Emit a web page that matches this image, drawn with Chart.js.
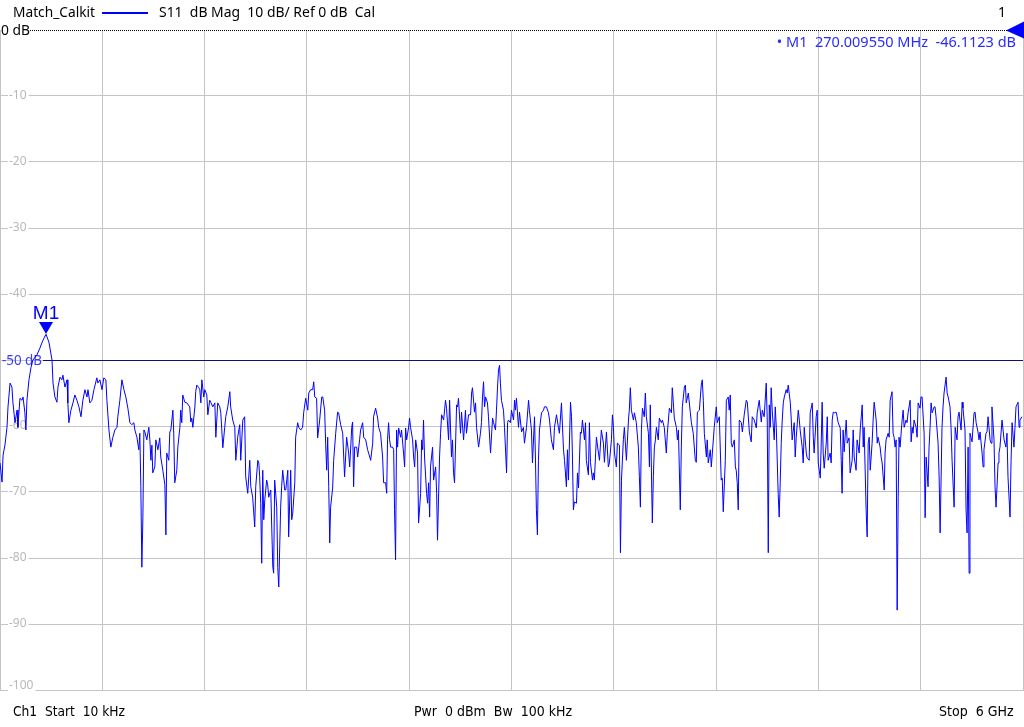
<!DOCTYPE html>
<html>
<head>
<meta charset="utf-8">
<title>Match_Calkit S11</title>
<script src="https://cdn.jsdelivr.net/npm/chart.js@4.4.1/dist/chart.umd.min.js"></script>
<style>
  html, body { margin: 0; padding: 0; background: #fff; }
  #wrap { width: 1024px; height: 727px; }
</style>
</head>
<body>
<div id="wrap"><canvas id="vna" width="1024" height="727"></canvas></div>
<script>
// sweep points (frequency in MHz, S11 in dB)
const freqMHz = [
  0.01, 12, 18, 29, 41, 47, 59, 70, 76, 88, 100, 105, 117, 129, 135, 146, 152, 158, 170, 182,
  193, 217, 234, 252, 270, 287, 305, 311, 322, 334, 340, 352, 363, 369, 381, 393, 398, 404, 416, 428,
  439, 451, 463, 475, 486, 498, 510, 516, 527, 539, 551, 568, 574, 586, 598, 609, 621, 627, 639, 650,
  662, 674, 686, 691, 703, 715, 727, 738, 750,
  762, 773, 785, 791, 803, 814, 820, 826, 832, 838, 844, 850, 861, 873, 879, 885, 891, 896, 908, 914,
  926, 937, 943, 955, 967, 973, 978, 990, 996, 1002, 1014, 1019, 1025, 1037, 1043, 1055, 1060, 1066, 1072, 1084,
  1096, 1113, 1119, 1125, 1131, 1143, 1148, 1154, 1166, 1172, 1178, 1184, 1195, 1201, 1213, 1219, 1230, 1236, 1248, 1260,
  1266, 1277, 1289, 1295, 1307, 1318, 1324, 1336, 1348, 1353, 1365, 1377, 1383, 1394, 1406, 1412, 1424, 1435, 1441, 1453,
  1465, 1471, 1482, 1494,
  1500, 1512, 1518, 1523, 1529, 1535, 1541, 1547, 1553, 1564, 1570, 1576, 1588, 1600, 1605, 1611, 1623, 1629, 1635, 1646,
  1652, 1658, 1670, 1676, 1688, 1693, 1705, 1711, 1717, 1729, 1734, 1746, 1752, 1764, 1775, 1781, 1793, 1805, 1811, 1822,
  1834, 1840, 1846, 1857, 1863, 1875, 1887, 1893, 1904, 1910, 1916, 1922, 1928, 1934, 1939, 1951, 1957, 1969, 1980, 1986,
  1998, 2010, 2016, 2021, 2033, 2045, 2051, 2063, 2068, 2074, 2080, 2092, 2098, 2109, 2115, 2127, 2133, 2145, 2156, 2162,
  2174, 2186, 2191, 2203, 2215, 2221, 2232, 2244, 2250,
  2262, 2268, 2273, 2279, 2285, 2291, 2303, 2309, 2314, 2320, 2326, 2332, 2338, 2350, 2355, 2367, 2373, 2379, 2385, 2396,
  2402, 2408, 2420, 2426, 2432, 2438, 2449, 2455, 2467, 2473, 2479, 2484, 2490, 2502, 2508, 2514, 2520, 2525, 2537, 2543,
  2555, 2561, 2566, 2578, 2584, 2590, 2602, 2613, 2619, 2631, 2637, 2648, 2654, 2660, 2666, 2678, 2684, 2689, 2701, 2707,
  2719, 2730, 2736, 2748, 2760, 2766, 2771, 2783, 2789, 2795, 2807, 2818, 2824, 2830, 2836, 2842, 2848, 2859, 2865, 2877,
  2889, 2895, 2906, 2912, 2918, 2924, 2930, 2935, 2941, 2953, 2959, 2971, 2977, 2982, 2994,
  3000, 3012, 3018, 3023, 3029, 3041, 3047, 3059, 3070, 3076, 3088, 3100, 3105, 3117, 3123, 3135, 3141, 3146, 3152, 3158,
  3164, 3176, 3188, 3193, 3205, 3217, 3223, 3234, 3246, 3252, 3264, 3275, 3281, 3293, 3305, 3311, 3322, 3328, 3334, 3346,
  3352, 3357, 3363, 3369, 3381, 3387, 3393, 3404, 3410, 3416, 3428, 3434, 3439, 3451, 3457, 3463, 3475, 3480, 3486, 3498,
  3510, 3516, 3527, 3539, 3545, 3557, 3568, 3574, 3586, 3592, 3598, 3604, 3615, 3621, 3633, 3639, 3645, 3656, 3662, 3674,
  3686, 3691, 3697, 3703, 3715, 3721, 3732, 3744, 3750, 3756,
  3762, 3768, 3779, 3785, 3791, 3803, 3809, 3814, 3826, 3832, 3838, 3844, 3850, 3861, 3867, 3879, 3885, 3896, 3908, 3914,
  3926, 3938, 3943, 3949, 3955, 3967, 3973, 3979, 3990, 3996, 4002, 4014, 4020, 4025, 4037, 4049, 4055, 4066, 4078, 4084,
  4090, 4102, 4113, 4119, 4125, 4131, 4143, 4148, 4154, 4166, 4172, 4178, 4189, 4201, 4207, 4219, 4230, 4236, 4242, 4254,
  4260, 4271, 4277, 4283, 4289, 4295, 4307, 4313, 4318, 4324, 4330, 4336, 4348, 4354, 4365, 4377, 4383, 4395, 4406, 4412,
  4424, 4436, 4441, 4453, 4465, 4471, 4482, 4494, 4500, 4506,
  4512, 4518, 4523, 4529, 4541, 4547, 4553, 4564, 4570, 4576, 4582, 4588, 4594, 4600, 4611, 4617, 4623, 4635, 4641, 4646,
  4658, 4664, 4670, 4682, 4688, 4693, 4705, 4711, 4717, 4729, 4734, 4746, 4752, 4764, 4770, 4775, 4787, 4793, 4799, 4811,
  4816, 4822, 4828, 4834, 4846, 4852, 4857, 4869, 4875, 4881, 4887, 4893, 4904, 4910, 4916, 4928, 4934, 4939, 4945, 4951,
  4963, 4969, 4980, 4986, 4998, 5004, 5010, 5021, 5027, 5039, 5045, 5057, 5063, 5068, 5080, 5086, 5092, 5098, 5104, 5115,
  5121, 5127, 5139, 5145, 5150, 5162, 5168, 5174, 5186, 5191, 5197, 5209, 5215, 5221, 5232, 5238, 5244, 5250, 5256,
  5262, 5268, 5273, 5279, 5291, 5297, 5303, 5314, 5320, 5326, 5338, 5344, 5350, 5355, 5361, 5373, 5379, 5385, 5396, 5402,
  5408, 5420, 5426, 5432, 5443, 5449, 5455, 5461, 5467, 5479, 5484, 5490, 5502, 5508, 5514, 5525, 5531, 5537, 5549, 5555,
  5561, 5572, 5578, 5584, 5596, 5602, 5613, 5619, 5625, 5637, 5643, 5648, 5660, 5666, 5672, 5678, 5684, 5689, 5695, 5701,
  5713, 5719, 5725, 5736, 5742, 5748, 5760, 5766, 5771, 5783, 5789, 5795, 5807, 5813, 5818, 5830, 5836, 5842, 5854, 5859,
  5865, 5877, 5883, 5889, 5900, 5906, 5912, 5924, 5930, 5936, 5947, 5953, 5959, 5971, 5977, 5982, 5994
];

const s11dB = [
  -65.6, -68.5, -64.4, -62.9, -60.2, -57.1, -53.5, -54.1, -56.5, -59.5, -57.6, -60.2, -55.8, -56.1, -55.6, -58.0, -60.6, -56.1, -53.0, -51.1,
  -50.0, -49.2, -48.2, -47.0, -46.1, -47.3, -50.0, -53.5, -55.6, -56.4, -54.1, -52.6, -53.0, -52.3, -54.1, -53.0, -56.5, -59.5, -57.6, -56.5,
  -55.3, -56.1, -57.1, -58.6, -56.1, -54.5, -55.6, -54.5, -56.5, -56.1, -54.5, -52.7, -53.5, -53.0, -54.5, -52.7, -53.0, -56.1, -60.6, -63.2,
  -61.7, -60.6, -60.2, -58.6, -56.1, -53.0, -54.5, -55.6, -57.3,
  -59.5, -59.8, -59.5, -60.6, -61.7, -63.6, -61.1, -69.2, -81.4, -73.9, -60.6, -60.9, -62.1, -60.2, -62.1, -65.2, -62.9, -67.1, -66.2, -62.1,
  -63.6, -61.8, -64.7, -66.7, -68.9, -76.5, -64.1, -65.2, -60.9, -60.6, -57.6, -61.1, -68.6, -66.7, -63.2, -60.2, -57.6, -59.5, -55.3, -56.4,
  -56.5, -57.1, -59.4, -58.8, -60.2, -57.1, -54.8, -53.8, -54.2, -54.5, -56.5, -53.0, -55.6, -54.5, -55.3, -58.3, -56.1, -56.4, -57.1, -56.5,
  -61.7, -56.5, -57.1, -58.0, -63.3, -60.2, -58.6, -57.1, -54.8, -57.1, -59.1, -60.2, -65.2, -61.7, -59.8, -65.2, -59.1, -58.6, -67.7, -70.2,
  -65.2, -69.2, -70.8, -75.3,
  -69.2, -65.2, -65.6, -67.7, -71.7, -80.8, -66.7, -74.2, -71.2, -68.2, -68.9, -70.8, -69.7, -81.4, -82.3, -68.2, -72.3, -81.4, -84.4, -72.3,
  -69.2, -66.7, -69.7, -69.7, -66.7, -76.8, -66.7, -74.2, -73.2, -68.6, -61.7, -59.5, -60.2, -60.6, -60.2, -58.0, -55.8, -57.6, -55.0, -54.5,
  -54.5, -53.3, -55.6, -55.8, -61.8, -59.1, -55.6, -55.6, -57.6, -62.6, -66.7, -61.7, -69.2, -77.7, -72.3, -69.4, -65.2, -61.1, -57.9, -58.0,
  -59.8, -61.1, -64.7, -67.7, -61.7, -64.1, -66.2, -60.2, -59.4, -69.2, -63.2, -63.2, -64.7, -62.1, -60.6, -59.5, -61.7, -62.1, -63.6, -64.1,
  -65.2, -62.6, -58.6, -57.3, -58.8, -60.2, -61.1, -64.7, -68.6,
  -68.6, -70.2, -62.1, -59.5, -62.1, -63.2, -63.2, -63.6, -72.7, -80.3, -60.6, -63.2, -60.3, -61.7, -60.6, -64.1, -66.2, -60.3, -62.1, -60.3,
  -58.8, -60.2, -62.1, -64.7, -66.2, -62.1, -64.1, -74.7, -70.2, -62.1, -63.6, -59.1, -64.7, -70.2, -71.7, -68.6, -73.8, -66.2, -63.2, -68.2,
  -66.2, -70.2, -77.3, -64.7, -61.1, -58.3, -59.1, -56.1, -57.3, -62.1, -56.1, -64.7, -62.1, -67.1, -68.6, -56.8, -57.1, -55.8, -61.1, -57.9,
  -62.1, -57.6, -61.1, -58.3, -58.3, -55.0, -54.2, -57.9, -56.5, -60.2, -63.2, -61.1, -59.5, -55.6, -53.3, -57.1, -55.6, -56.5, -58.6, -64.1,
  -58.8, -59.5, -60.6, -57.6, -54.1, -51.5, -50.8, -53.5, -56.1, -57.6, -60.2, -67.1, -59.5, -59.1, -59.5,
  -57.6, -59.1, -56.1, -57.6, -55.8, -60.2, -57.9, -60.9, -60.2, -62.6, -60.2, -56.1, -57.6, -60.6, -65.6, -58.6, -65.6, -72.7, -76.5, -65.2,
  -60.6, -58.0, -57.6, -57.1, -57.1, -58.0, -59.1, -62.1, -63.6, -60.2, -58.3, -60.2, -61.1, -56.5, -63.6, -65.2, -69.2, -63.6, -68.2, -56.4,
  -58.6, -64.1, -72.7, -71.5, -71.7, -67.1, -69.4, -60.9, -61.1, -59.1, -62.1, -59.5, -65.2, -67.4, -59.5, -65.5, -68.2, -67.1, -68.2, -61.7,
  -64.1, -65.2, -60.6, -62.6, -65.5, -60.9, -66.2, -65.6, -62.1, -58.3, -60.2, -64.1, -66.2, -62.6, -62.9, -79.2, -68.2, -62.1, -60.2, -65.2,
  -59.1, -57.6, -54.2, -57.6, -59.1, -58.0, -59.5, -63.2, -67.7, -72.3,
  -60.6, -57.3, -58.6, -55.0, -58.6, -61.1, -66.2, -56.8, -74.7, -67.7, -63.2, -62.1, -60.2, -62.1, -58.8, -59.5, -59.1, -60.2, -64.1, -61.1,
  -57.3, -58.0, -54.2, -56.4, -58.8, -60.2, -62.1, -60.6, -72.7, -63.2, -57.1, -54.1, -53.8, -56.5, -55.0, -58.0, -59.5, -61.1, -65.2, -65.5,
  -57.9, -57.6, -53.8, -53.0, -56.1, -61.1, -64.7, -62.1, -65.6, -63.6, -66.2, -64.1, -60.2, -57.1, -59.5, -58.6, -68.2, -67.9, -73.0, -65.2,
  -56.1, -55.6, -57.6, -55.3, -62.6, -63.2, -62.1, -66.2, -66.7, -68.6, -72.7, -59.1, -59.5, -60.9, -58.3, -56.1, -56.4, -60.9, -62.4, -58.6,
  -59.1, -60.3, -58.0, -56.1, -59.4, -57.6, -58.6, -53.5, -59.1, -79.2,
  -56.8, -60.2, -54.2, -57.6, -62.1, -57.1, -60.2, -70.2, -73.8, -68.6, -62.6, -59.1, -56.5, -55.6, -54.5, -55.0, -53.8, -56.4, -59.1, -62.1,
  -59.5, -64.7, -61.7, -57.6, -59.1, -60.6, -63.2, -65.6, -60.2, -64.1, -64.8, -65.2, -58.0, -56.5, -61.7, -64.1, -58.6, -57.6, -65.6, -67.9,
  -63.2, -56.4, -64.1, -66.4, -62.6, -58.6, -65.2, -64.1, -65.6, -59.1, -57.9, -58.0, -57.9, -58.6, -59.5, -60.3, -65.2, -70.2, -60.6, -63.9,
  -59.1, -62.6, -61.8, -67.1, -65.2, -60.6, -64.7, -66.7, -62.1, -64.1, -60.6, -56.8, -63.2, -60.2, -72.7, -76.8, -62.6, -61.7, -66.7, -62.6,
  -59.1, -56.4, -59.1, -62.6, -61.7, -63.2, -64.7, -65.6, -69.7, -64.1, -62.1, -61.1, -61.7, -56.1, -54.8, -61.1, -61.7, -63.2, -62.1,
  -87.9, -70.8, -61.7, -63.2, -59.1, -57.6, -60.2, -59.1, -59.5, -58.0, -56.1, -62.4, -60.2, -61.1, -59.1, -60.2, -61.7, -56.5, -57.3, -55.6,
  -55.6, -61.1, -73.9, -64.7, -69.2, -63.2, -60.2, -56.5, -58.0, -57.1, -57.1, -58.6, -62.6, -67.7, -76.2, -60.2, -57.1, -55.0, -52.6, -55.0,
  -55.6, -57.1, -60.2, -65.2, -72.3, -60.2, -62.1, -58.6, -57.9, -60.6, -56.4, -57.3, -60.6, -72.7, -76.2, -63.2, -82.3, -61.1, -61.7, -62.4,
  -58.0, -57.9, -59.5, -60.9, -62.1, -60.9, -64.1, -66.2, -63.6, -61.1, -60.9, -58.6, -62.1, -62.6, -57.1, -62.1, -69.2, -72.3, -65.6, -64.1,
  -63.2, -59.1, -60.6, -62.1, -63.2, -61.1, -67.7, -73.8, -65.2, -59.5, -63.2, -60.2, -57.1, -56.4, -60.2, -59.1, -58.6
];

// axis setup: 10 dB/div from Ref 0 dB, sweep 10 kHz .. 6 GHz
const yTickValues = [0, -10, -20, -30, -40, -50, -60, -70, -80, -90, -100];
const yTickLabels = ['0 dB', '-10', '-20', '-30', '-40', '-50 dB', '-60', '-70', '-80', '-90', '-100'];
const xDivisionsMHz = [0.01, 600, 1200, 1800, 2400, 3000, 3600, 4200, 4800, 5400, 6000];
const limitLineDB = -50;

const traceName = 'Match_Calkit';
const traceInfo = 'S11  dB Mag  10 dB/ Ref 0 dB  Cal';
const channelNo = '1';
const markerName = 'M1';
const markerFreqMHz = 270.00955;
const markerValueDB = -46.1123;
const markerReadout = '\u2022 M1  270.009550 MHz  -46.1123 dB';
const footerLeft = 'Ch1  Start  10 kHz';
const footerMid = 'Pwr  0 dBm  Bw  100 kHz';
const footerRight = 'Stop  6 GHz';

const TRACE_BLUE = '#0000ff';
const GRID_GREY = '#c4c4c4';
const UI_FONT = '"Noto Sans", "Open Sans", sans-serif';
const NARROW_FONT = '"Liberation Sans Narrow", "DejaVu Sans Condensed", "Noto Sans", sans-serif';

const points = freqMHz.map((f, i) => ({ x: f, y: s11dB[i] }));

// everything the analyzer paints on top of the grid
const vnaOverlay = {
  id: 'vnaOverlay',
  beforeDatasetsDraw(chart) {
    const { ctx, chartArea: area, scales: { y } } = chart;
    ctx.save();
    ctx.textBaseline = 'middle';

    // grey level labels sitting on their grid lines
    ctx.font = '12px ' + UI_FONT;
    yTickValues.forEach((v, i) => {
      if (v === 0 || v === limitLineDB) return;
      const py = Math.round(y.getPixelForValue(v));
      const txt = yTickLabels[i];
      const w = ctx.measureText(txt).width;
      ctx.fillStyle = '#fff';
      ctx.fillRect(8, py - 1, w + 3, 3);
      ctx.fillStyle = '#b8b8b8';
      ctx.fillText(txt, 9, v === -100 ? py - 4 : py);
    });

    // limit line at -50 dB with its label
    const ly = Math.round(y.getPixelForValue(limitLineDB)) + 0.5;
    ctx.strokeStyle = '#101070';
    ctx.lineWidth = 1;
    ctx.beginPath();
    ctx.moveTo(43, ly);
    ctx.lineTo(area.right, ly);
    ctx.stroke();
    ctx.font = '14px ' + UI_FONT;
    ctx.fillStyle = '#3a3aff';
    ctx.fillText(yTickLabels[yTickValues.indexOf(limitLineDB)], 2, ly + 1, 40);
    ctx.restore();
  },
  afterDraw(chart) {
    const { ctx, chartArea: area, scales: { x, y } } = chart;
    ctx.save();

    // reference level: dotted line + "0 dB"
    const ry = Math.round(y.getPixelForValue(0)) + 0.5;
    ctx.strokeStyle = '#000';
    ctx.lineWidth = 1;
    ctx.setLineDash([1, 1]);
    ctx.beginPath();
    ctx.moveTo(30, ry);
    ctx.lineTo(area.right - 16, ry);
    ctx.stroke();
    ctx.setLineDash([]);
    ctx.font = '14px ' + UI_FONT;
    ctx.fillStyle = '#000';
    ctx.textBaseline = 'alphabetic';
    ctx.fillText(yTickLabels[0], 1, 35, 29);

    // reference position arrow on the right
    ctx.fillStyle = TRACE_BLUE;
    ctx.beginPath();
    ctx.moveTo(area.right - 17, ry);
    ctx.lineTo(area.right + 1, ry - 9);
    ctx.lineTo(area.right + 1, ry + 8);
    ctx.closePath();
    ctx.fill();

    // header line
    ctx.fillStyle = '#000';
    ctx.fillText(traceName, 13, 17, 82);
    ctx.strokeStyle = TRACE_BLUE;
    ctx.lineWidth = 2;
    ctx.beginPath();
    ctx.moveTo(102, 13);
    ctx.lineTo(148, 13);
    ctx.stroke();
    ctx.fillText(traceInfo, 159, 17, 216);
    ctx.textAlign = 'right';
    ctx.fillText(channelNo, 1006, 17);

    // marker readout
    ctx.fillStyle = '#2a2aff';
    ctx.font = '14.5px ' + UI_FONT;
    ctx.fillText(markerReadout, 1016, 47, 240);
    ctx.textAlign = 'left';

    // marker M1 on the trace
    const mx = Math.round(x.getPixelForValue(markerFreqMHz));
    const my = Math.round(y.getPixelForValue(markerValueDB));
    ctx.fillStyle = TRACE_BLUE;
    ctx.beginPath();
    ctx.moveTo(mx, my);
    ctx.lineTo(mx - 7, my - 12);
    ctx.lineTo(mx + 7, my - 12);
    ctx.closePath();
    ctx.fill();
    ctx.font = '19px "Liberation Sans", Arial, sans-serif';
    ctx.textAlign = 'center';
    ctx.fillText(markerName, mx, my - 15);

    // footer
    ctx.fillStyle = '#000';
    ctx.font = '14px ' + NARROW_FONT;
    ctx.textAlign = 'left';
    ctx.fillText(footerLeft, 13, 716, 112);
    ctx.fillText(footerMid, 414, 716, 158);
    ctx.fillText(footerRight, 939, 716, 75);
    ctx.restore();
  }
};

new Chart(document.getElementById('vna'), {
  type: 'line',
  data: {
    datasets: [{
      label: 'S11',
      data: points,
      borderColor: TRACE_BLUE,
      borderWidth: 1,
      pointRadius: 0,
      tension: 0,
      fill: false
    }]
  },
  options: {
    responsive: false,
    animation: false,
    layout: { padding: { top: 30, bottom: 37, left: 0, right: 1 } },
    plugins: { legend: { display: false }, tooltip: { enabled: false } },
    scales: {
      x: {
        type: 'linear',
        min: xDivisionsMHz[0],
        max: xDivisionsMHz[xDivisionsMHz.length - 1],
        afterBuildTicks: s => { s.ticks = xDivisionsMHz.map(v => ({ value: v })); },
        ticks: { display: false },
        grid: { color: GRID_GREY, drawTicks: false, tickLength: 0 },
        border: { color: GRID_GREY }
      },
      y: {
        min: -100,
        max: 0,
        afterBuildTicks: s => { s.ticks = yTickValues.map(v => ({ value: v })); },
        ticks: { display: false },
        grid: {
          color: c => (c.tick && c.tick.value === 0 ? 'rgba(0,0,0,0)' : GRID_GREY),
          drawTicks: false,
          tickLength: 0
        },
        border: { color: GRID_GREY }
      }
    }
  },
  plugins: [vnaOverlay]
});
</script>
</body>
</html>
